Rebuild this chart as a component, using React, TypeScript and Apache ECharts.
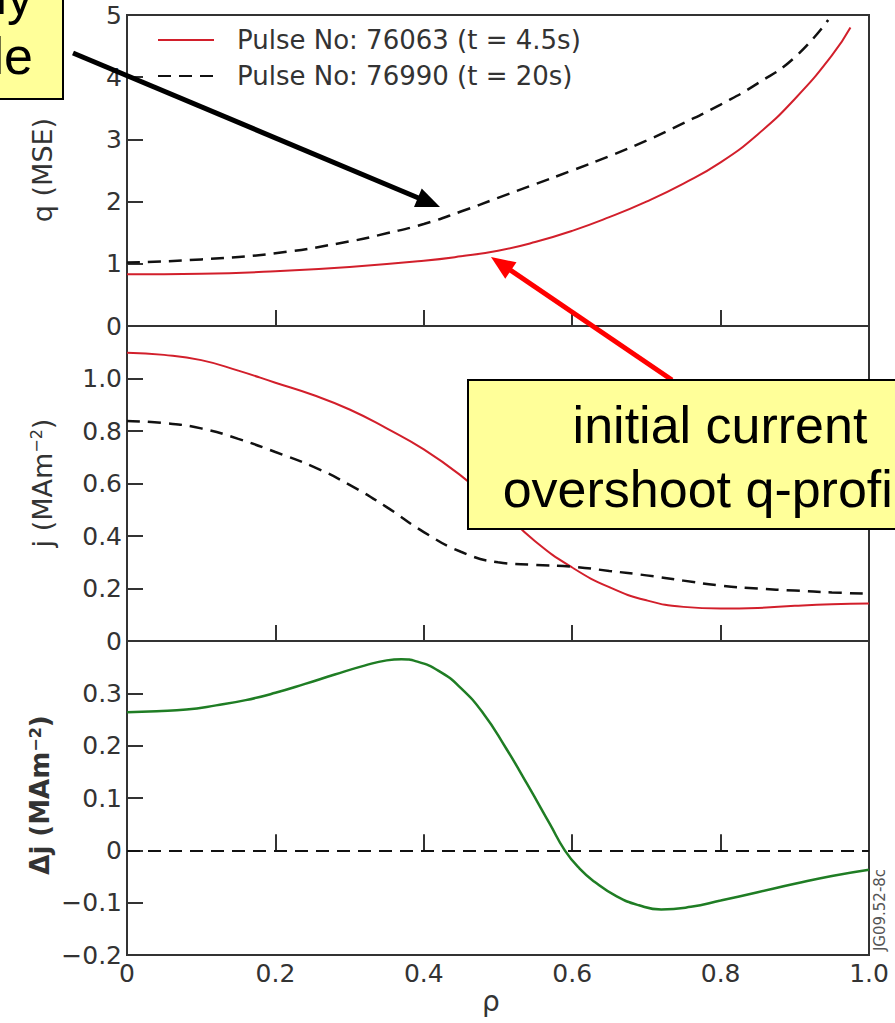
import React, { useEffect, useRef } from 'react';
import * as echarts from 'echarts';

// ---------- data ----------
const legendNames = ['Pulse No: 76063 (t = 4.5s)', 'Pulse No: 76990 (t = 20s)'];
const deltaName = 'Δj';

// q profiles (top panel)
const rhoQ76063 = [0, 0.1, 0.2, 0.3, 0.4, 0.45, 0.5, 0.55, 0.6, 0.65, 0.7, 0.75, 0.8, 0.85, 0.9, 0.95, 0.975];
const q76063 = [0.83, 0.84, 0.88, 0.95, 1.05, 1.12, 1.21, 1.35, 1.53, 1.75, 2.0, 2.29, 2.63, 3.08, 3.65, 4.35, 4.8];
const rhoQ76990 = [0, 0.1, 0.2, 0.3, 0.35, 0.4, 0.45, 0.5, 0.55, 0.6, 0.65, 0.7, 0.75, 0.8, 0.85, 0.9, 0.945];
const q76990 = [1.02, 1.07, 1.17, 1.36, 1.49, 1.64, 1.84, 2.06, 2.28, 2.5, 2.73, 2.98, 3.26, 3.56, 3.9, 4.32, 4.92];

// current density profiles (middle panel)
const rhoJ = [0, 0.05, 0.1, 0.15, 0.2, 0.25, 0.3, 0.35, 0.4, 0.45, 0.5, 0.55, 0.6, 0.65, 0.7, 0.75, 0.8, 0.85, 0.9, 0.95, 1.0];
const j76063 = [1.098, 1.09, 1.07, 1.03, 0.984, 0.938, 0.882, 0.81, 0.73, 0.63, 0.51, 0.38, 0.28, 0.205, 0.155, 0.13, 0.124, 0.126, 0.134, 0.14, 0.143];
const j76990 = [0.838, 0.83, 0.81, 0.77, 0.72, 0.665, 0.595, 0.51, 0.415, 0.34, 0.3, 0.29, 0.283, 0.267, 0.25, 0.23, 0.211, 0.2, 0.192, 0.185, 0.18];

// difference (bottom panel)
const rhoDJ = [0, 0.04, 0.08, 0.12, 0.16, 0.2, 0.24, 0.28, 0.32, 0.35, 0.37, 0.39, 0.42, 0.45, 0.48, 0.51, 0.54, 0.57, 0.59, 0.61, 0.63, 0.66, 0.69, 0.72, 0.76, 0.8, 0.85, 0.9, 0.95, 1.0];
const dJ = [0.264, 0.266, 0.269, 0.277, 0.287, 0.301, 0.318, 0.336, 0.353, 0.363, 0.365, 0.361, 0.343, 0.31, 0.262, 0.197, 0.125, 0.05, 0.0, -0.035, -0.06, -0.088, -0.105, -0.113, -0.108, -0.096, -0.08, -0.064, -0.049, -0.037];

// axis ranges / ticks
const rhoRange = [0, 1];
const rhoStep = 0.2;
const qRange = [0, 5];
const qStep = 1;
const jRange = [0, 1.2];
const jStep = 0.2;
const dRange = [-0.2, 0.4];
const dStep = 0.1;

const pairs = (xs: number[], ys: number[]) => xs.map((x, i) => [x, ys[i]]);

const TICK_FONT = 'DejaVu Sans';
const RED = '#d21f2b';
const GREEN = '#1f7d24';
const DASH = [13, 8];
const SMOOTH = 0.5;

const fmt = (v: number) => {
  if (Math.abs(v) < 1e-9) return '0';
  return v.toFixed(1).replace('-', '\u2212');
};

export default function App() {
  const ref = useRef<HTMLDivElement>(null);

  useEffect(() => {
    document.body.style.margin = '0';
    const chart = echarts.init(ref.current!, null, { renderer: 'svg' });

    const L = 127, W = 742;
    const grids = [
      { left: L, top: 15, width: W, height: 311 },
      { left: L, top: 326, width: W, height: 315 },
      { left: L, top: 641, width: W, height: 314 },
    ].map((g) => ({ ...g, show: true, borderColor: '#333', borderWidth: 2, backgroundColor: 'transparent' }));

    const xAxisBase = (i: number, showLabel: boolean) => ({
      type: 'value',
      gridIndex: i,
      min: rhoRange[0],
      max: rhoRange[1],
      interval: rhoStep,
      axisLine: { show: false },
      splitLine: { show: false },
      axisTick: { show: true, inside: true, length: 16, lineStyle: { color: '#333', width: 2 } },
      axisLabel: {
        show: showLabel,
        margin: 6,
        fontFamily: TICK_FONT,
        fontSize: 25,
        color: '#333',
        formatter: (v: number) => (v === 0 ? '0' : v.toFixed(1)),
      },
    });

    const yAxisBase = (i: number, range: number[], step: number, formatter: (v: number) => string) => ({
      type: 'value',
      gridIndex: i,
      min: range[0],
      max: range[1],
      interval: step,
      axisLine: { show: false },
      splitLine: { show: false },
      axisTick: { show: true, inside: true, length: 16, lineStyle: { color: '#333', width: 2 } },
      axisLabel: {
        show: true,
        margin: 5,
        fontFamily: TICK_FONT,
        fontSize: 25,
        color: '#333',
        formatter,
      },
    });

    const arrow = (x1: number, y1: number, tx: number, ty: number, color: string, z: number) => {
      const dx = tx - x1, dy = ty - y1;
      const len = Math.hypot(dx, dy);
      const ux = dx / len, uy = dy / len;
      const nx = -uy, ny = ux;
      const hl = 24, hw = 10;
      const bx = tx - ux * hl, by = ty - uy * hl;
      return [
        { type: 'line', z, shape: { x1, y1, x2: bx + ux * 2, y2: by + uy * 2 }, style: { stroke: color, lineWidth: 5 } },
        {
          type: 'polygon', z,
          shape: { points: [[tx, ty], [bx + nx * hw, by + ny * hw], [bx - nx * hw, by - ny * hw]] },
          style: { fill: color },
        },
      ];
    };

    const lineSeries = (name: string, gi: number, xs: number[], ys: number[], color: string, width: number, dashed: boolean) => ({
      name, type: 'line', xAxisIndex: gi, yAxisIndex: gi,
      data: pairs(xs, ys), smooth: SMOOTH, symbol: 'none', showSymbol: false,
      lineStyle: { color, width, type: dashed ? DASH : 'solid' }, itemStyle: { color }, z: 3,
    });

    const option: any = {
      animation: false,
      backgroundColor: '#ffffff',
      grid: grids,
      xAxis: [xAxisBase(0, false), xAxisBase(1, false), xAxisBase(2, true)],
      yAxis: [
        yAxisBase(0, qRange, qStep, (v: number) => String(Math.round(v))),
        yAxisBase(1, jRange, jStep, (v: number) => (v > 1.1 ? '' : fmt(v))),
        yAxisBase(2, dRange, dStep, (v: number) => (v > 0.35 ? '' : fmt(v))),
      ],
      legend: {
        data: legendNames,
        orient: 'vertical',
        left: 157,
        top: 25,
        padding: 0,
        itemWidth: 56,
        itemHeight: 14,
        itemGap: 6,
        selectedMode: false,
        itemStyle: { opacity: 0 },
        textStyle: { fontFamily: TICK_FONT, fontSize: 26, color: '#333', lineHeight: 30, padding: [0, 0, 0, 18] },
      },
      series: [
        lineSeries(legendNames[0], 0, rhoQ76063, q76063, RED, 2, false),
        lineSeries(legendNames[1], 0, rhoQ76990, q76990, '#111', 2.5, true),
        lineSeries(legendNames[0], 1, rhoJ, j76063, RED, 2, false),
        lineSeries(legendNames[1], 1, rhoJ, j76990, '#111', 2.5, true),
        {
          ...lineSeries(deltaName, 2, rhoDJ, dJ, GREEN, 2.5, false),
          markLine: {
            silent: true,
            symbol: ['none', 'none'],
            label: { show: false },
            lineStyle: { color: '#111', type: DASH, width: 2 },
            data: [{ yAxis: 0 }],
          },
        },
      ],
      graphic: [
        // axis titles
        {
          type: 'text', x: 42, y: 170, rotation: Math.PI / 2, z: 50,
          style: { text: 'q (MSE)', fontFamily: TICK_FONT, fontSize: 27, fill: '#333', align: 'center', verticalAlign: 'middle' },
        },
        {
          type: 'text', x: 42, y: 483, rotation: Math.PI / 2, z: 50,
          style: {
            text: 'j (MAm{sup|\u22122})', fontFamily: TICK_FONT, fontSize: 27, fill: '#333', align: 'center', verticalAlign: 'middle',
            rich: { sup: { fontFamily: TICK_FONT, fontSize: 16, fill: '#333', verticalAlign: 'top', lineHeight: 16 } },
          },
        },
        {
          type: 'text', x: 40, y: 795, rotation: Math.PI / 2, z: 50,
          style: {
            text: 'Δj (MAm{sup|\u22122})', fontFamily: TICK_FONT, fontWeight: 'bold', fontSize: 26, fill: '#333', align: 'center', verticalAlign: 'middle',
            rich: { sup: { fontFamily: TICK_FONT, fontWeight: 'bold', fontSize: 16, fill: '#333', verticalAlign: 'top', lineHeight: 16 } },
          },
        },
        {
          type: 'text', x: 491, y: 1001, z: 50,
          style: { text: 'ρ', fontFamily: TICK_FONT, fontSize: 28, fill: '#333', align: 'center', verticalAlign: 'middle' },
        },
        {
          type: 'text', x: 880, y: 910, rotation: Math.PI / 2, z: 50,
          style: { text: 'JG09.52-8c', fontFamily: TICK_FONT, fontSize: 15, fill: '#555', align: 'center', verticalAlign: 'middle' },
        },
        // annotation arrows
        ...arrow(73, 53, 440, 207, '#000000', 100),
        ...arrow(672, 380, 491, 257, '#ff0000', 100),
        // top-left callout (cut off by the page edge)
        {
          type: 'rect', z: 110,
          shape: { x: -10, y: -10, width: 73, height: 109 },
          style: { fill: '#ffff99', stroke: '#000', lineWidth: 2 },
        },
        {
          type: 'text', x: 33, y: -4, z: 111,
          style: { text: 'ly', fontFamily: 'Liberation Sans', fontSize: 52, fill: '#000', align: 'right', verticalAlign: 'middle' },
        },
        {
          type: 'text', x: 33, y: 56, z: 111,
          style: { text: 'le', fontFamily: 'Liberation Sans', fontSize: 52, fill: '#000', align: 'right', verticalAlign: 'middle' },
        },
        // right callout
        {
          type: 'rect', z: 110,
          shape: { x: 468, y: 380, width: 520, height: 149 },
          style: { fill: '#ffff99', stroke: '#000', lineWidth: 2 },
        },
        {
          type: 'text', x: 720, y: 425, z: 111,
          style: { text: 'initial current', fontFamily: 'Liberation Sans', fontSize: 52, fill: '#000', align: 'center', verticalAlign: 'middle' },
        },
        {
          type: 'text', x: 718, y: 489, z: 111,
          style: { text: 'overshoot q-profile', fontFamily: 'Liberation Sans', fontSize: 52, fill: '#000', align: 'center', verticalAlign: 'middle' },
        },
      ],
    };

    chart.setOption(option);
    return () => chart.dispose();
  }, []);

  return <div ref={ref} style={{ width: 895, height: 1023 }} />;
}
